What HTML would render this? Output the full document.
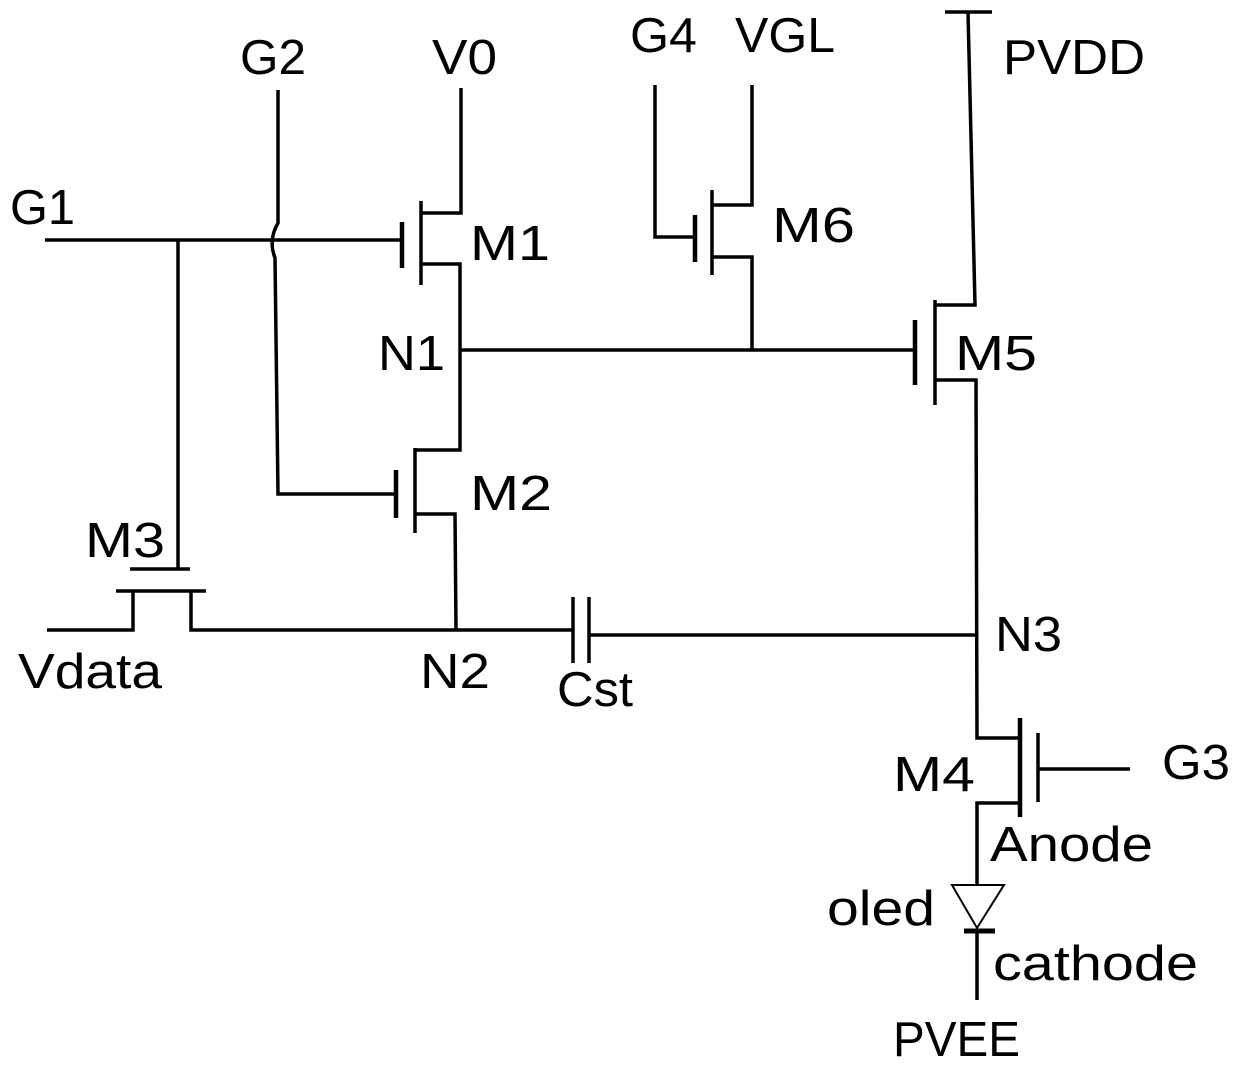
<!DOCTYPE html>
<html><head><style>body{margin:0;background:#fff}svg{display:block}text{font-family:"Liberation Sans",sans-serif;font-size:49px;fill:#000}</style></head>
<body>
<svg width="1240" height="1073" viewBox="0 0 1240 1073" xmlns="http://www.w3.org/2000/svg">
<g stroke="#000" stroke-width="3.5" fill="none">
<polyline points="45,240 402,240"/>
<line x1="402" y1="222" x2="402" y2="268" stroke-width="4.5"/>
<line x1="421" y1="201" x2="421" y2="285"/>
<polyline points="461,88 461,213 421,213"/>
<polyline points="421,264 460,264 460,450 415,450"/>
<line x1="396" y1="470" x2="396" y2="518" stroke-width="4.5"/>
<line x1="415" y1="448" x2="415" y2="533"/>
<polyline points="415,514 455,514 456,630"/>
<path d="M278,90 L278,223 Q268,240 275,258 L278,494 L396,494"/>
<line x1="178" y1="240" x2="178" y2="570"/>
<line x1="130" y1="569" x2="190" y2="569"/>
<line x1="116" y1="591" x2="206" y2="591"/>
<polyline points="47,630 133,630 133,591"/>
<polyline points="191,591 191,630 573,630"/>
<line x1="573" y1="597" x2="573" y2="663"/>
<line x1="589" y1="597" x2="589" y2="663"/>
<line x1="589" y1="635" x2="977" y2="635"/>
<line x1="460" y1="350" x2="915" y2="350"/>
<line x1="945" y1="12" x2="992" y2="12"/>
<polyline points="968,12 975,305 935,305"/>
<line x1="915" y1="320" x2="915" y2="385" stroke-width="4.5"/>
<line x1="935" y1="300" x2="935" y2="405"/>
<polyline points="935,380 976,380 977,738 1020,738"/>
<polyline points="752,350 752,257 712,257"/>
<polyline points="712,205 752,205 752,85"/>
<line x1="712" y1="190" x2="712" y2="275"/>
<line x1="695" y1="215" x2="695" y2="262" stroke-width="4.5"/>
<polyline points="655,85 655,237 695,237"/>
<line x1="1020" y1="718" x2="1020" y2="817" stroke-width="4.5"/>
<line x1="1038" y1="733" x2="1038" y2="802"/>
<line x1="1038" y1="769" x2="1130" y2="769"/>
<polyline points="1020,803 977,803 977,885"/>
<polygon points="952,885 1004,885 977,928" stroke-width="2"/>
<line x1="964" y1="931" x2="995" y2="931" stroke-width="5"/>
<line x1="977" y1="931" x2="977" y2="1000"/>
</g>
<g lengthAdjust="spacingAndGlyphs">
<text x="240" y="74" textLength="66" lengthAdjust="spacingAndGlyphs">G2</text>
<text x="432" y="74" textLength="65" lengthAdjust="spacingAndGlyphs">V0</text>
<text x="630" y="52" textLength="67" lengthAdjust="spacingAndGlyphs">G4</text>
<text x="735" y="52" textLength="100" lengthAdjust="spacingAndGlyphs">VGL</text>
<text x="1003" y="74" textLength="142" lengthAdjust="spacingAndGlyphs">PVDD</text>
<text x="10" y="224" textLength="65" lengthAdjust="spacingAndGlyphs">G1</text>
<text x="470" y="260" textLength="80" lengthAdjust="spacingAndGlyphs">M1</text>
<text x="772" y="242" textLength="83" lengthAdjust="spacingAndGlyphs">M6</text>
<text x="378" y="370" textLength="67" lengthAdjust="spacingAndGlyphs">N1</text>
<text x="955" y="370" textLength="82" lengthAdjust="spacingAndGlyphs">M5</text>
<text x="470" y="510" textLength="82" lengthAdjust="spacingAndGlyphs">M2</text>
<text x="85" y="557" textLength="80" lengthAdjust="spacingAndGlyphs">M3</text>
<text x="18" y="688" textLength="144" lengthAdjust="spacingAndGlyphs">Vdata</text>
<text x="420" y="688" textLength="70" lengthAdjust="spacingAndGlyphs">N2</text>
<text x="557" y="706" textLength="76" lengthAdjust="spacingAndGlyphs">Cst</text>
<text x="995" y="651" textLength="67" lengthAdjust="spacingAndGlyphs">N3</text>
<text x="893" y="791" textLength="82" lengthAdjust="spacingAndGlyphs">M4</text>
<text x="1162" y="779" textLength="68" lengthAdjust="spacingAndGlyphs">G3</text>
<text x="990" y="861" textLength="163" lengthAdjust="spacingAndGlyphs">Anode</text>
<text x="827" y="925" textLength="108" lengthAdjust="spacingAndGlyphs">oled</text>
<text x="993" y="980" textLength="205" lengthAdjust="spacingAndGlyphs">cathode</text>
<text x="893" y="1056" textLength="127" lengthAdjust="spacingAndGlyphs">PVEE</text>
</g>
</svg>
</body></html>
